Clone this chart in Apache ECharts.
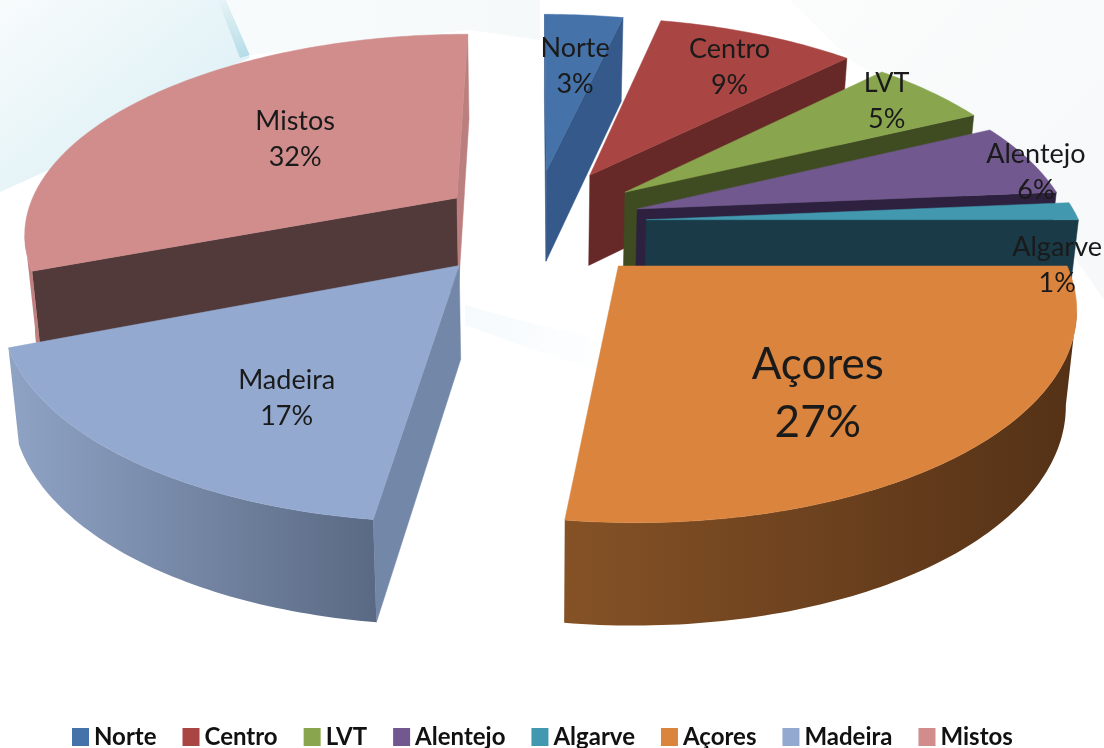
<!DOCTYPE html>
<html>
<head>
<meta charset="utf-8">
<title>Distribuição por região</title>
<script src="https://cdn.jsdelivr.net/npm/echarts@6/dist/echarts.min.js"></script>
<style>
html, body { margin: 0; padding: 0; background: #fff; }
#chart { width: 1104px; height: 748px; filter: blur(0.5px); }
</style>
</head>
<body>
<div id="chart"></div>
<script>
// chart values
var regions = ['Norte', 'Centro', 'LVT', 'Alentejo', 'Algarve', 'Açores', 'Madeira', 'Mistos'];
var sliceValues = [3.5, 8.9, 5.4, 5.8, 1.4, 27.09, 17.0, 30.91];
var percentLabels = ['3%', '9%', '5%', '6%', '1%', '27%', '17%', '32%'];

// look of the slices
var topColors = ['#4573a9', '#a94543', '#89a54e', '#71588f', '#4198af', '#db843d', '#93a9cf', '#d08d8c'];
var startFaceColors = ['#34598a', '#672927', '#3f4c22', '#2d213f', '#173a45', '#8a5225', '#7387a8', '#523a3b'];
var endFaceColors = ['#34598a', '#672927', '#3f4c22', '#2d213f', '#193a46', '#8a5225', '#7387a8', '#bb7f7f'];
var wallStops = [
    ['#34598a', '#34598a'], ['#672927', '#672927'], ['#3f4c22', '#3f4c22'], ['#2d213f', '#2d213f'],
    ['#193a46', '#193a46'], ['#855226', '#543116'], ['#8fa3c5', '#5a6a84'], ['#c08080', '#c08080']
];
var explode = [0.27, 0.28, 0.265, 0.25, 0.26, 0.285, 0.27, 0.22];
var drawOrder = [0, 1, 2, 7, 3, 4, 5, 6];
var labelReach = [0.68, 0.66, 0.72, 0.98, 1.0, 0.6, 0.52, 0.42];
var labelNudge = [[2, 6], [24, -11], [36, -17], [15, 12], [-17, 54], [0, 24], [-12, 39], [-23, -15]];

// fake 3d view: tilted disc with some perspective
var view = { cx: 534, cy: 222, rx: 433, ry: 198, k: 0.165 };

function project(u, v) {
    var p = 1 / (1 - view.k * v);
    return [view.cx + view.rx * u * p, view.cy + view.ry * v * p, p];
}

function drop(pt) {
    return [view.cx + (pt[0] - view.cx) * 0.98, pt[1] + 92 * Math.sqrt(pt[2])];
}

var total = sliceValues.reduce(function (a, b) { return a + b; }, 0);
var slices = [];
var running = 0;
sliceValues.forEach(function (val, i) {
    var a0 = running / total * Math.PI * 2;
    running += val;
    var a1 = running / total * Math.PI * 2;
    var mid = (a0 + a1) / 2;
    var ou = explode[i] * Math.sin(mid);
    var ov = -explode[i] * Math.cos(mid);
    var rim = [];
    var steps = Math.max(4, Math.round((a1 - a0) * 60));
    for (var s = 0; s <= steps; s++) {
        var a = a0 + (a1 - a0) * s / steps;
        rim.push(project(ou + Math.sin(a), ov - Math.cos(a)));
    }
    slices.push({ apex: project(ou, ov), rim: rim, mid: mid, ou: ou, ov: ov });
});

function quad(a, b, color) {
    return {
        type: 'polygon',
        silent: true,
        shape: { points: [a.slice(0, 2), b.slice(0, 2), drop(b), drop(a)] },
        style: { fill: color, stroke: color, lineWidth: 0.5 }
    };
}

function renderSlice(params) {
    var i = params.seriesIndex;
    var sl = slices[i];
    var rim = sl.rim;
    var kids = [];
    var first = rim[0];
    var last = rim[rim.length - 1];
    // a side face shows when its edge runs leftwards going round the slice
    if (first[0] < sl.apex[0]) kids.push(quad(sl.apex, first, startFaceColors[i]));
    if (sl.apex[0] < last[0]) kids.push(quad(last, sl.apex, endFaceColors[i]));

    var run = [];
    for (var s = 1; s < rim.length; s++) {
        if (rim[s][0] < rim[s - 1][0]) {
            if (!run.length) run.push(rim[s - 1]);
            run.push(rim[s]);
        }
    }
    if (run.length > 1) {
        var upper = run.map(function (p) { return p.slice(0, 2); });
        var lower = run.map(drop).reverse();
        var xs = upper.map(function (p) { return p[0]; });
        var grad = new echarts.graphic.LinearGradient(
            Math.min.apply(null, xs), 0, Math.max.apply(null, xs), 0,
            [{ offset: 0, color: wallStops[i][0] }, { offset: 1, color: wallStops[i][1] }],
            true
        );
        kids.push({
            type: 'polygon',
            silent: true,
            shape: { points: upper.concat(lower) },
            style: { fill: grad }
        });
    }
    kids.push({
        type: 'polygon',
        silent: true,
        shape: { points: [sl.apex.slice(0, 2)].concat(rim.map(function (p) { return p.slice(0, 2); })) },
        style: { fill: topColors[i], stroke: topColors[i], lineWidth: 0.5 }
    });
    return { type: 'group', children: kids };
}

function renderLabel(params) {
    var i = params.dataIndex;
    var sl = slices[i];
    var r = labelReach[i];
    var pt = project(sl.ou + r * Math.sin(sl.mid), sl.ov - r * Math.cos(sl.mid));
    var big = regions[i] === 'Açores';
    return {
        type: 'text',
        silent: true,
        x: pt[0] + labelNudge[i][0],
        y: pt[1] + labelNudge[i][1],
        style: {
            text: regions[i] + '\n' + percentLabels[i],
            fill: '#1a1a1a',
            font: (big ? 44 : 27) + 'px Lato',
            lineHeight: big ? 58 : 36,
            align: 'center',
            verticalAlign: 'middle'
        }
    };
}

var series = regions.map(function (name, i) {
    return {
        type: 'custom',
        name: name,
        coordinateSystem: 'none',
        z: 2 + drawOrder.indexOf(i),
        itemStyle: { color: topColors[i] },
        renderItem: renderSlice,
        data: [[sliceValues[i]]]
    };
});
series.push({
    type: 'custom',
    name: 'rotulos',
    coordinateSystem: 'none',
    z: 30,
    renderItem: renderLabel,
    data: sliceValues.map(function (v) { return [v]; })
});

// washed out swoosh behind the pie
var backdrop = [
    { pts: [[0, 0], [218, 0], [250, 58], [150, 100], [60, 165], [0, 192]], c0: '#f8fbfc', c1: '#dcf0f5', g: [0, 0, 0.6, 1] },
    { pts: [[218, 0], [226, 0], [250, 55], [240, 58]], c0: '#e6f3f7', c1: '#b5dce8', g: [0, 0, 0, 1] },
    { pts: [[226, 0], [540, 0], [540, 40], [468, 30], [250, 55]], c0: '#f8fbfb', c1: '#f6f9fa', g: [0, 0, 1, 0] },
    { pts: [[790, 0], [1104, 0], [1104, 300], [1000, 150], [850, 60]], c0: '#fbfcfc', c1: '#f6f8f9', g: [0, 0, 1, 1] },
    { pts: [[465, 305], [520, 320], [620, 345], [610, 375], [520, 345], [465, 325]], c0: '#f5fafc', c1: '#ffffff', g: [0, 0, 1, 1] }
];

var myChart = echarts.init(document.getElementById('chart'), null, { renderer: 'canvas' });
var option = {
    animation: false,
    backgroundColor: '#ffffff',
    tooltip: { show: false },
    graphic: {
        elements: backdrop.map(function (b) {
            return {
                type: 'polygon',
                silent: true,
                z: 0,
                shape: { points: b.pts },
                style: {
                    fill: new echarts.graphic.LinearGradient(b.g[0], b.g[1], b.g[2], b.g[3], [
                        { offset: 0, color: b.c0 }, { offset: 1, color: b.c1 }
                    ])
                }
            };
        })
    },
    legend: {
        data: regions,
        left: 67,
        top: 720,
        icon: 'rect',
        itemWidth: 17,
        itemHeight: 18,
        itemGap: 26,
        textStyle: { fontFamily: 'Lato', fontWeight: 'bold', fontSize: 24, color: '#111' }
    },
    series: series
};
myChart.setOption(option);
</script>
</body>
</html>
